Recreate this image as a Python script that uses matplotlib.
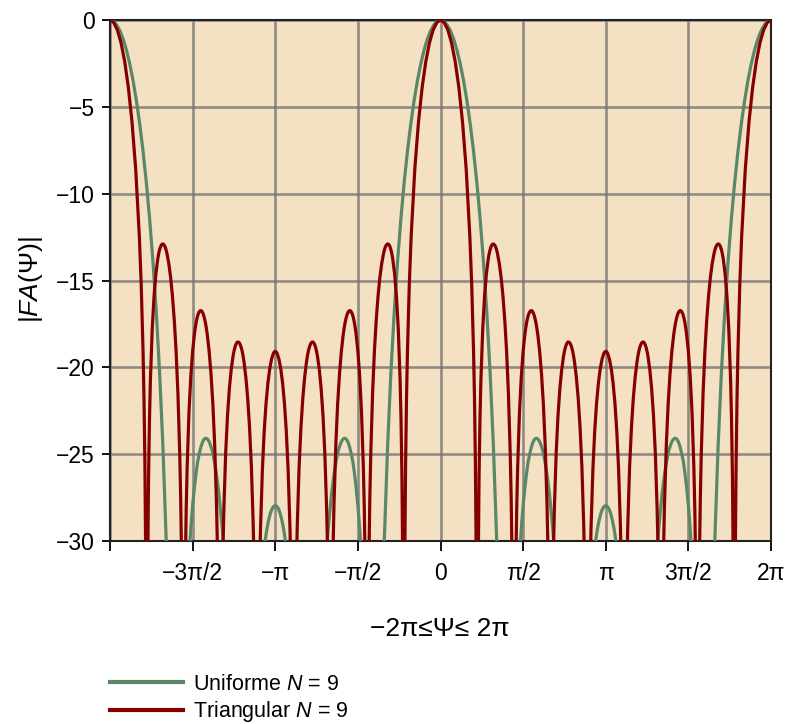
import numpy as np
import matplotlib.pyplot as plt
from matplotlib.lines import Line2D

plt.rcParams['font.family'] = ['Liberation Sans', 'DejaVu Sans']
plt.rcParams['mathtext.fontset'] = 'custom'
plt.rcParams['mathtext.rm'] = 'Liberation Sans'
plt.rcParams['mathtext.it'] = 'Liberation Sans:italic'

# Factor de array |FA| en dB sobre medio periodo: psi en unidades de pi, de 0 a 1
# (de -2pi a 2pi se completa por simetria)
psi_triangular = [
    0.0, 0.0222, 0.0444, 0.0667, 0.0889, 0.1111, 0.1333, 0.1556, 0.1778, 0.1889, 0.2, 0.2056, 0.2111, 0.2167, 0.2222,
    0.2278, 0.2333, 0.2389, 0.2444, 0.2556, 0.2667, 0.2778, 0.2889, 0.2944, 0.3, 0.3056, 0.3111, 0.3167, 0.3222,
    0.3278, 0.3333, 0.3389, 0.3444, 0.3556, 0.3667, 0.3778, 0.3889, 0.4, 0.4111, 0.4222, 0.4278, 0.4333, 0.4444,
    0.45, 0.4556, 0.4611, 0.4667, 0.4778, 0.4889, 0.5, 0.5111, 0.5167, 0.5222, 0.5278, 0.5333, 0.5389, 0.5444,
    0.55, 0.5556, 0.5611, 0.5667, 0.5722, 0.5778, 0.5833, 0.5889, 0.6, 0.6111, 0.6222, 0.6333, 0.6444, 0.65,
    0.6556, 0.6667,
    0.6778, 0.6833, 0.6889, 0.7, 0.7111, 0.7222, 0.7333, 0.7444, 0.75, 0.7556, 0.7611, 0.7667, 0.7722, 0.7778,
    0.7833, 0.7889, 0.7944, 0.8, 0.8056, 0.8111, 0.8222, 0.8333, 0.8444, 0.8556, 0.8667, 0.8722, 0.8889,
    0.9, 0.9056, 0.9111, 0.9222, 0.9333, 0.9444, 0.9556, 0.9667, 0.9778, 0.9889, 0.9944, 1.0]
fa_triangular = [
    0.0, -0.14, -0.57, -1.31, -2.39, -3.88, -5.88, -8.6, -12.51, -15.26, -19.08, -21.75, -25.45, -31.66, -50.0,
    -32.07, -26.29, -23.0, -20.76, -17.78, -15.89, -14.61, -13.76, -13.46, -13.23, -13.06, -12.95, -12.9, -12.9,
    -12.96, -13.06, -13.22, -13.43, -14.01, -14.81, -15.88, -17.27, -19.08, -21.53, -25.07, -27.61, -31.18, -50.0,
    -37.4, -31.54, -28.15, -25.8, -22.62, -20.54, -19.08, -18.06, -17.68, -17.37, -17.12, -16.94, -16.82, -16.75,
    -16.73, -16.77, -16.86, -17.0, -17.2, -17.45, -17.76, -18.13, -19.08, -20.36, -22.07, -24.42, -27.85, -30.34,
    -33.9, -50.0,
    -34.04, -30.6, -28.21, -24.94, -22.77, -21.24, -20.14, -19.37, -19.08, -18.86, -18.7, -18.59, -18.54, -18.55,
    -18.6, -18.71, -18.87, -19.08, -19.36, -19.7, -20.58, -21.79, -23.44, -25.72, -29.09, -31.55, -50.0,
    -35.09, -31.63, -29.2, -25.88, -23.65, -22.06, -20.9, -20.08, -19.52, -19.19, -19.11, -19.08]

psi_uniforme = [
    0.0, 0.02, 0.04, 0.06, 0.08, 0.1, 0.12, 0.14, 0.16, 0.18, 0.2, 0.22, 0.24, 0.26, 0.28, 0.3, 0.32, 0.34, 0.36, 0.4,
    0.46, 0.48, 0.49, 0.5, 0.51, 0.52, 0.53, 0.54, 0.55, 0.56, 0.57, 0.58, 0.59, 0.6, 0.61, 0.62, 0.63, 0.64, 0.65,
    0.66, 0.68, 0.7, 0.8,
    0.9, 0.92, 0.94, 0.95, 0.96, 0.97, 0.98, 0.99, 1.0]
fa_uniforme = [
    0.0, -0.07, -0.28, -0.62, -1.11, -1.75, -2.55, -3.51, -4.66, -6.0, -7.56, -9.37, -11.47, -13.92, -16.81, -20.27,
    -24.51, -29.94, -37.52, -60.0,
    -34.5, -30.6, -29.16, -27.96, -26.98, -26.15, -25.45, -24.98, -24.59, -24.3, -24.13, -24.08, -24.13, -24.28,
    -24.53, -24.84, -25.33, -25.88, -26.57, -27.36, -29.35, -31.98, -60.0,
    -33.76, -31.5, -29.9, -29.28, -28.8, -28.42, -28.16, -28.01, -27.96]

xtick_pos = [-2, -1.5, -1, -0.5, 0, 0.5, 1, 1.5, 2]
xtick_txt = ['', '−3π/2', '−π', '−π/2', '0', 'π/2', 'π', '3π/2', '2π']
ytick_pos = [0, -5, -10, -15, -20, -25, -30]

color_uniforme = '#5a8768'
color_triangular = '#860000'
fondo = '#f4e1c3'


def periodo(psi, fa):
    psi = np.asarray(psi, dtype=float)
    fa = np.asarray(fa, dtype=float)
    # espejo respecto a pi y luego respecto a 0
    p = np.concatenate([psi, 2 - psi[::-1][1:]])
    f = np.concatenate([fa, fa[::-1][1:]])
    p = np.concatenate([-p[::-1][:-1], p])
    f = np.concatenate([f[::-1][:-1], f])
    return p * np.pi, f


fig = plt.figure(figsize=(7.89, 7.24), dpi=100)
ax = fig.add_axes([110 / 789, 1 - 541 / 724, 661 / 789, 521 / 724])
ax.set_facecolor(fondo)

x_u, y_u = periodo(psi_uniforme, fa_uniforme)
x_t, y_t = periodo(psi_triangular, fa_triangular)
ax.plot(x_u, y_u, color=color_uniforme, lw=2.3, solid_joinstyle='round', zorder=3)
ax.plot(x_t, y_t, color=color_triangular, lw=2.3, solid_joinstyle='round', zorder=4)

ax.set_xlim(-2 * np.pi, 2 * np.pi)
ax.set_ylim(-30, 0)
ax.set_xticks(np.array(xtick_pos) * np.pi)
ax.set_xticklabels(xtick_txt)
ax.set_yticks(ytick_pos)
ax.set_yticklabels(['0' if v == 0 else '−%d' % -v for v in ytick_pos])
ax.grid(True, color='#737373', lw=1.9, alpha=0.78, zorder=1)
ax.set_axisbelow(True)
ax.tick_params(axis='x', direction='out', length=7, width=1.3, pad=8, labelsize=16.5)
ax.tick_params(axis='y', direction='out', length=6, width=1.3, pad=5, labelsize=16.5)
for s in ax.spines.values():
    s.set_linewidth(1.5)
    s.set_color('#222222')

fig.text(440 / 789, 1 - 629 / 724, '−2π≤Ψ≤ 2π', ha='center', va='center', fontsize=19)
fig.text(31 / 789, 1 - 280 / 724, '|$FA$(Ψ)|', ha='center', va='center', rotation=90, fontsize=19)

handles = [Line2D([], [], color=color_uniforme, lw=3),
           Line2D([], [], color=color_triangular, lw=3)]
fig.legend(handles, ['Uniforme $N$ = 9', 'Triangular $N$ = 9'], loc='upper left',
           bbox_to_anchor=(110 / 789, 1 - 674 / 724), frameon=False, fontsize=15.5,
           handlelength=3.4, handletextpad=0.45, borderpad=0, borderaxespad=0, labelspacing=0.2)

fig.savefig('out.png', dpi=100)
